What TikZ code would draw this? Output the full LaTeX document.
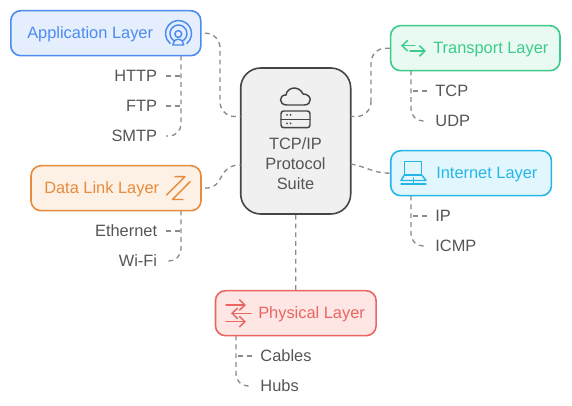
\documentclass[tikz,border=0pt]{standalone}
\usepackage{fontspec}
\setmainfont{Liberation Sans}
\usetikzlibrary{arrows.meta}
\definecolor{cA}{HTML}{4C8BF0}\definecolor{fA}{HTML}{E4EEFD}
\definecolor{cT}{HTML}{3DCB8B}\definecolor{fT}{HTML}{E8FAF2}
\definecolor{cI}{HTML}{25B6E8}\definecolor{fI}{HTML}{E2F7FD}
\definecolor{cD}{HTML}{E88B3C}\definecolor{fD}{HTML}{FDF0E4}
\definecolor{cP}{HTML}{EB6662}\definecolor{fP}{HTML}{FDE6E4}
\definecolor{cC}{HTML}{454545}\definecolor{fC}{HTML}{F0F0F0}
\definecolor{cL}{HTML}{555555}\definecolor{cG}{HTML}{8A8A8A}
\tikzset{
  x=0.75pt,y=-0.75pt,
  txt/.style={font=\fontsize{12.3}{15}\selectfont},
  ctxt/.style={txt,text height=9pt,text depth=0pt,inner sep=0pt},
  layerbox/.style={draw=#1,line width=1.2pt,rounded corners=7.5pt,minimum height=33.75pt,inner sep=0pt},
  layertext/.style={ctxt,text=#1,anchor=west},
  hubbox/.style={draw=cC,fill=fC,line width=1.2pt,rounded corners=15pt,minimum width=82.5pt,minimum height=109.5pt,inner sep=0pt},
  leafR/.style={ctxt,text=cL,anchor=east,inner xsep=6.5pt},
  leafL/.style={ctxt,text=cL,anchor=west,inner xsep=6.5pt},
  conn/.style={draw=cG,line width=1pt,dash pattern=on 3.6pt off 3pt},
  bigbend/.style={rounded corners=11pt},
  smallbend/.style={rounded corners=9pt},
  ico/.style={line width=1.1pt,line cap=round,line join=round},
  arr/.style={ico,-{Straight Barb[length=4.2pt,width=8pt,line width=1.1pt]}},
}
\begin{document}
\begin{tikzpicture}
\useasboundingbox (0,0) rectangle (572,406);
% hub
\node[hubbox] (hub) at (295.7,141) {};
\node[txt,text=cL,align=center,inner sep=0pt] (hublabel) at (295.5,163.5) {TCP/IP\\Protocol\\Suite};
\coordinate (hubL1) at (240.7,116.5);
\coordinate (hubL2) at (240.7,165);
\coordinate (hubR1) at (350.7,116.5);
\coordinate (hubR2) at (350.7,164);
% layer boxes
\node[layerbox=cA,fill=fA,minimum width=142.5pt] (app) at (105.8,33.2) {};
\node[layertext=cA] (applabel) at (27,33) {Application Layer};
\node[layerbox=cT,fill=fT,minimum width=127pt] (trans) at (475.3,48.2) {};
\node[layertext=cT] (translabel) at (433,48) {Transport Layer};
\node[layerbox=cI,fill=fI,minimum width=120.5pt] (inet) at (471.1,173.2) {};
\node[layertext=cI] (inetlabel) at (436,173) {Internet Layer};
\node[layerbox=cD,fill=fD,minimum width=127.5pt] (data) at (116,188.2) {};
\node[layertext=cD] (datalabel) at (44,188) {Data Link Layer};
\node[layerbox=cP,fill=fP,minimum width=120.5pt] (phys) at (295.8,313.2) {};
\node[layertext=cP] (physlabel) at (258,313) {Physical Layer};
% leaves
\node[leafR] (http) at (166,76) {HTTP};
\node[leafR] (ftp) at (166,106) {FTP};
\node[leafR] (smtp) at (166,136) {SMTP};
\node[leafL] (tcp) at (426.5,91) {TCP};
\node[leafL] (udp) at (426.5,121) {UDP};
\node[leafL] (ip) at (426.5,216) {IP};
\node[leafL] (icmp) at (426.5,246) {ICMP};
\node[leafR] (eth) at (166,231) {Ethernet};
\node[leafR] (wifi) at (166,261) {Wi-Fi};
\node[leafL] (cables) at (251.5,356) {Cables};
\node[leafL] (hubs) at (251.5,386) {Hubs};
% bus starts
\coordinate (appbus) at (181,55.7);
\coordinate (transbus) at (411,70.7);
\coordinate (inetbus) at (411,195.7);
\coordinate (databus) at (181,210.7);
\coordinate (physbus) at (236,335.7);
% hub connectors
\draw[conn,bigbend,shorten <=2.5pt] (app.east) -| (220,75) |- (hubL1);
\draw[conn,bigbend] (trans.west) -| (371,90) |- (hubR1);
\draw[conn] (hubR2) .. controls (368,167) and (372,173) .. (inet.west);
\draw[conn,shorten <=2.5pt] (data.east) .. controls (226,188) and (216,165) .. (hubL2);
\draw[conn] (hub.south) -- (phys.north);
% leaf connectors
\draw[conn] (http.east) -- (http.east -| appbus);
\draw[conn] (ftp.east) -- (ftp.east -| appbus);
\draw[conn,smallbend] (appbus) |- (smtp.east);
\draw[conn] (tcp.west) -- (tcp.west -| transbus);
\draw[conn,smallbend] (transbus) |- (udp.west);
\draw[conn] (ip.west) -- (ip.west -| inetbus);
\draw[conn,smallbend] (inetbus) |- (icmp.west);
\draw[conn] (eth.east) -- (eth.east -| databus);
\draw[conn,smallbend] (databus) |- (wifi.east);
\draw[conn] (cables.west) -- (cables.west -| physbus);
\draw[conn,smallbend] (physbus) |- (hubs.west);
% application icon
\begin{scope}[ico,draw=cA]
  \draw (178.3,34) circle (3.4);
  \draw (172.8,45) -- (174.3,41) .. controls (176,38.8) and (180.6,38.8) .. (182.3,41) -- (183.8,45) -- cycle;
  \draw (178.5,33.5) ++(125:8.5) arc[start angle=125,end angle=415,radius=8.5];
  \draw (178.5,33.5) ++(130:13) arc[start angle=130,end angle=410,radius=13];
\end{scope}
% transport icon
\draw[arr,cT] (415,45.7) -- (401,45.7);
\draw[arr,cT] (410,51) -- (426,51);
% internet icon
\begin{scope}[ico,draw=cI]
  \draw (404.3,161.7) rectangle (421.7,175);
  \draw (404.3,175) -- (401,180.5) -- (426,180.5) -- (421.7,175);
  \draw (401,184) -- (426,184);
  \draw (413.5,178) -- (413.5,184);
\end{scope}
% data link icon
\draw[ico,cD] (175,176.7) -- (185,176.7) -- (166.7,195);
\draw[ico,cD] (190,181.7) -- (172.5,199.5) -- (183,199.5);
% physical icon
\draw[arr,cP] (226,305) -- (246,305);
\draw[arr,cP] (251,313.3) -- (231,313.3);
\draw[arr,cP] (226,321.7) -- (246,321.7);
% hub icon
\begin{scope}[ico,draw=cC]
  \draw (287,105) .. controls (278,105) and (279,94.5) .. (286,95) .. controls (287,87) and (299,85) .. (303,94) .. controls (312,94) and (313,105) .. (304,105) -- cycle;
  \draw[rounded corners=2pt] (281,111) rectangle (310,127.7);
  \draw (281,119.3) -- (310,119.3);
\end{scope}
\fill[cC] (287,115) circle (1) (290.5,115) circle (1) (287,123.5) circle (1) (290.5,123.5) circle (1);
\end{tikzpicture}
\end{document}
